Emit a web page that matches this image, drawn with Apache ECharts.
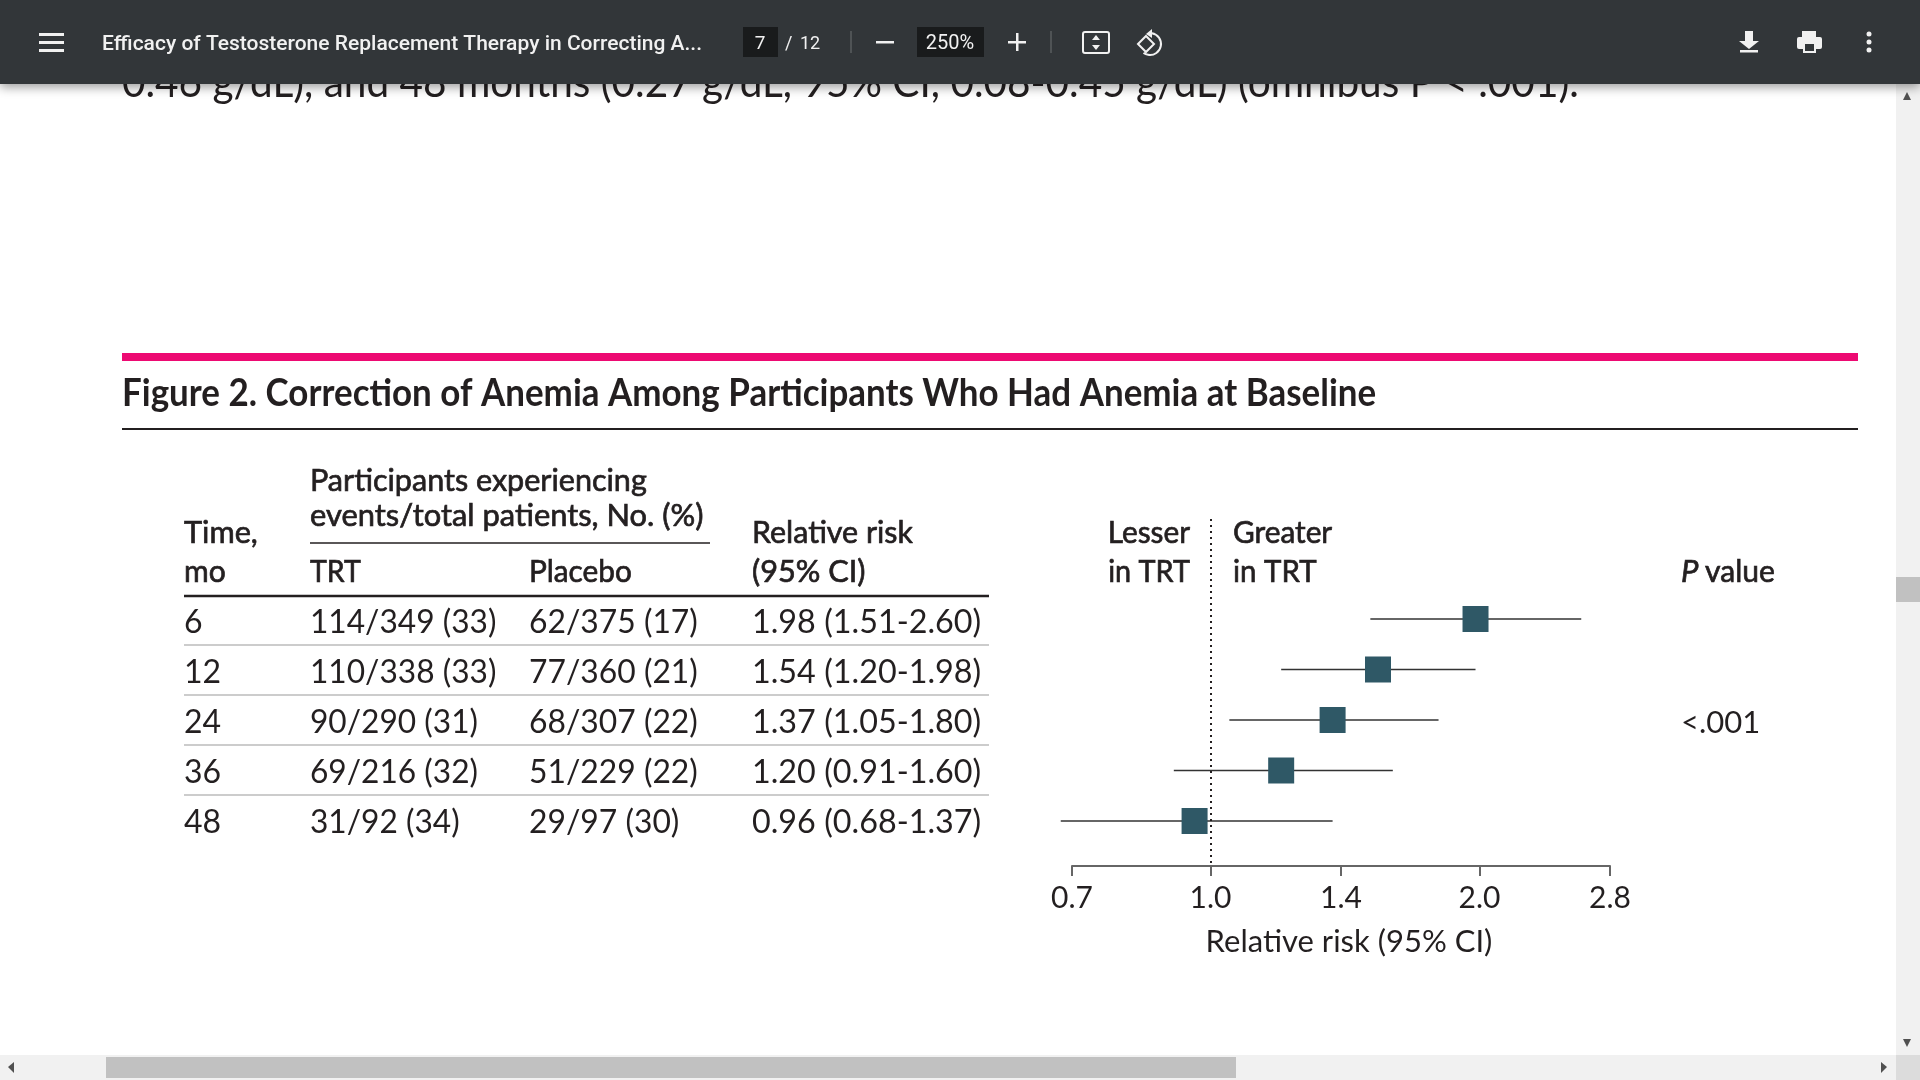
<!DOCTYPE html>
<html>
<head>
<meta charset="utf-8">
<title>Figure 2</title>
<style>
  html, body { margin: 0; padding: 0; background: #fff; overflow: hidden; }
  #chart { width: 1920px; height: 1080px; }
</style>
<script src="https://cdn.jsdelivr.net/npm/echarts@6/dist/echarts.min.js"></script>
</head>
<body>
<div id="chart"></div>
<script>
// chart values
const months = ['6', '12', '24', '36', '48']
const trtCounts = ['114/349 (33)', '110/338 (33)', '90/290 (31)', '69/216 (32)', '31/92 (34)']
const placeboCounts = ['62/375 (17)', '77/360 (21)', '68/307 (22)', '51/229 (22)', '29/97 (30)']
const riskText = ['1.98 (1.51-2.60)', '1.54 (1.20-1.98)', '1.37 (1.05-1.80)', '1.20 (0.91-1.60)', '0.96 (0.68-1.37)']
const rowIndex = [0, 1, 2, 3, 4]
const riskValues = [1.98, 1.54, 1.37, 1.20, 0.96]
const lowerValues = [1.51, 1.20, 1.05, 0.91, 0.68]
const upperValues = [2.60, 1.98, 1.80, 1.60, 1.37]
const tickValues = [0.7, 1.0, 1.4, 2.0, 2.8]
const tickLabels = ['0.7', '1.0', '1.4', '2.0', '2.8']

const FONT = 'Lato'
const INK = '#231f20'
const BAR = '#323639'

const chart = echarts.init(document.getElementById('chart'))

function txt(x, base, text, size, opt) {
  opt = opt || {}
  return {
    type: 'text',
    x: x,
    y: base - size * 0.28,
    scaleX: opt.sx || 1,
    z: opt.z || 1,
    style: {
      text: text,
      x: 0,
      y: 0,
      fontFamily: opt.font || FONT,
      fontSize: size,
      fontWeight: opt.weight || 'normal',
      fontStyle: opt.italic ? 'italic' : 'normal',
      fill: opt.fill || INK,
      stroke: opt.heavy ? INK : null,
      lineWidth: opt.heavy || 0,
      align: opt.align || 'left',
      verticalAlign: 'middle'
    }
  }
}
function box(x, y, w, h, fill, z) {
  return { type: 'rect', z: z || 1, shape: { x: x, y: y, width: w, height: h }, style: { fill: fill } }
}
function seg(x1, y1, x2, y2, color, width, z) {
  return { type: 'line', z: z || 1, shape: { x1: x1, y1: y1, x2: x2, y2: y2 }, style: { stroke: color, lineWidth: width } }
}
function tri(points, fill, z) {
  return { type: 'polygon', z: z || 1, shape: { points: points }, style: { fill: fill } }
}

// pdf viewer chrome
const T = 20
const ui = { font: 'Roboto', fill: '#f1f1f1', z: T }
const viewer = [
  txt(122, 95, '0.46 g/dL), and 48 months (0.27 g/dL, 95% CI, 0.08-0.45 g/dL) (omnibus P < .001).', 43, { sx: 0.943 }),
  { type: 'rect', z: T, shape: { x: 0, y: 0, width: 1920, height: 84 },
    style: { fill: BAR, shadowBlur: 10, shadowColor: 'rgba(0,0,0,0.4)', shadowOffsetY: 3 } },
  box(39, 33, 25, 3, '#f1f1f1', T), box(39, 41, 25, 3, '#f1f1f1', T), box(39, 49, 25, 3, '#f1f1f1', T),
  txt(102, 51, 'Efficacy of Testosterone Replacement Therapy in Correcting A...', 21, Object.assign({ weight: 500 }, ui)),
  box(743, 27, 35, 30, '#191b1c', T),
  txt(760, 50, '7', 19, Object.assign({ align: 'center' }, ui)),
  txt(785, 50, '/', 18, ui),
  txt(800, 50, '12', 18, ui),
  seg(851, 31, 851, 53, '#6d7073', 1, T),
  box(876, 41, 18, 2.5, '#f1f1f1', T),
  box(917, 27, 67, 30, '#191b1c', T),
  txt(950, 50, '250%', 20, Object.assign({ align: 'center' }, ui)),
  box(1008, 41, 18, 2.5, '#f1f1f1', T), box(1016, 33, 2.5, 18, '#f1f1f1', T),
  seg(1051, 31, 1051, 53, '#6d7073', 1, T),
  { type: 'rect', z: T, shape: { x: 1083, y: 32, width: 26, height: 21, r: 2 }, style: { fill: 'none', stroke: '#f1f1f1', lineWidth: 2 } },
  tri([[1096, 35], [1100, 40], [1092, 40]], '#f1f1f1', T),
  tri([[1096, 50], [1100, 45], [1092, 45]], '#f1f1f1', T),
  { type: 'arc', z: T, shape: { cx: 1150, cy: 44, r: 11, startAngle: -1.4, endAngle: 2.2 }, style: { fill: 'none', stroke: '#f1f1f1', lineWidth: 2 } },
  tri([[1138, 43], [1147, 34], [1156, 43], [1147, 52]], BAR, T),
  { type: 'polygon', z: T, shape: { points: [[1138, 44], [1146, 36], [1154, 44], [1146, 52]] }, style: { fill: 'none', stroke: '#f1f1f1', lineWidth: 2 } },
  tri([[1152, 29], [1152, 38], [1146, 34]], '#f1f1f1', T),
  tri([[1739, 41], [1745, 41], [1745, 31], [1753, 31], [1753, 41], [1759, 41], [1749, 49]], '#f1f1f1', T),
  box(1740, 50, 18, 2.5, '#f1f1f1', T),
  box(1802, 31, 14, 6, '#f1f1f1', T),
  { type: 'rect', z: T, shape: { x: 1797, y: 37, width: 25, height: 12, r: 2 }, style: { fill: '#f1f1f1' } },
  box(1803, 44, 13, 9, '#f1f1f1', T), box(1805, 44, 9, 7, BAR, T),
  { type: 'circle', z: T, shape: { cx: 1869, cy: 34, r: 2.5 }, style: { fill: '#f1f1f1' } },
  { type: 'circle', z: T, shape: { cx: 1869, cy: 42, r: 2.5 }, style: { fill: '#f1f1f1' } },
  { type: 'circle', z: T, shape: { cx: 1869, cy: 50, r: 2.5 }, style: { fill: '#f1f1f1' } },
  // scrollbars
  box(1896, 84, 24, 971, '#f1f1f1', 5),
  box(1896, 577, 24, 25, '#c1c1c1', 6),
  tri([[1907, 92], [1911, 100], [1903, 100]], '#505050', 6),
  box(0, 1055, 1896, 25, '#f1f1f1', 5),
  box(1896, 1055, 24, 25, '#dcdcdc', 5),
  box(106, 1057, 1130, 21, '#c1c1c1', 6),
  tri([[1903, 1039], [1911, 1039], [1907, 1047]], '#505050', 6),
  tri([[8, 1067], [14, 1062], [14, 1073]], '#505050', 6),
  tri([[1887, 1067], [1881, 1062], [1881, 1073]], '#505050', 6)
]

// figure heading and table
const HEAD = { heavy: 0.7, sx: 0.97 }
const COL_TIME = 184, COL_TRT = 310, COL_PLACEBO = 529, COL_RISK = 752
const ROW_BASE = [632, 682, 732, 782, 832]
const figure = [
  box(122, 353, 1736, 8, '#ed0a72'),
  txt(122, 404, 'Figure 2. Correction of Anemia Among Participants Who Had Anemia at Baseline', 38, { weight: 'bold', sx: 0.92 }),
  seg(122, 429, 1858, 429, '#231f20', 2),
  txt(COL_TRT, 490, 'Participants experiencing', 31, { heavy: 0.7, sx: 0.985 }),
  txt(COL_TRT, 525, 'events/total patients, No. (%)', 31, { heavy: 0.7, sx: 0.995 }),
  txt(COL_TIME, 542, 'Time,', 31, { heavy: 0.7, sx: 0.99 }),
  txt(COL_TIME, 581, 'mo', 31, HEAD),
  txt(COL_TRT, 581, 'TRT', 31, { heavy: 0.7, sx: 0.92 }),
  txt(COL_PLACEBO, 581, 'Placebo', 31, { heavy: 0.7, sx: 0.96 }),
  txt(COL_RISK, 542, 'Relative risk', 31, { heavy: 0.7, sx: 0.98 }),
  txt(COL_RISK, 581, '(95% CI)', 31, { heavy: 0.7, sx: 0.99 }),
  seg(COL_TRT, 543, 710, 543, '#231f20', 1.5),
  seg(COL_TIME, 596, 989, 596, '#231f20', 2.5),
  txt(1190, 542, 'Lesser', 31, { heavy: 0.7, sx: 0.96, align: 'right' }),
  txt(1190, 581, 'in TRT', 31, { heavy: 0.7, sx: 0.93, align: 'right' }),
  txt(1233, 542, 'Greater', 31, { heavy: 0.7, sx: 0.96 }),
  txt(1233, 581, 'in TRT', 31, { heavy: 0.7, sx: 0.95 }),
  txt(1681, 581, 'P', 31, { heavy: 0.7, italic: true }),
  txt(1705, 581, 'value', 31, HEAD),
  txt(1681, 732, '<.001', 31)
]
months.forEach((m, i) => {
  figure.push(txt(COL_TIME, ROW_BASE[i], m, 32))
  figure.push(txt(COL_TRT, ROW_BASE[i], trtCounts[i], 32, { sx: 0.99 }))
  figure.push(txt(COL_PLACEBO, ROW_BASE[i], placeboCounts[i], 32, { sx: 0.995 }))
  figure.push(txt(COL_RISK, ROW_BASE[i], riskText[i], 32, { sx: 1.01 }))
  if (i < months.length - 1) {
    figure.push(seg(COL_TIME, ROW_BASE[i] + 13, 989, ROW_BASE[i] + 13, '#bbbbbb', 1.5))
  }
})

const option = {
  animation: false,
  backgroundColor: '#fff',
  grid: { left: 1072, right: 310, top: 519, bottom: 214 },
  xAxis: {
    type: 'log',
    logBase: 2,
    min: 0.7,
    max: 2.8,
    splitLine: { show: false },
    axisLine: { onZero: false, lineStyle: { color: '#666', width: 2 } },
    axisTick: { inside: false, length: 10, customValues: tickValues, lineStyle: { color: '#666', width: 2 } },
    minorTick: { show: false },
    axisLabel: {
      margin: 17,
      fontFamily: FONT,
      fontSize: 30,
      color: INK,
      customValues: tickValues,
      formatter: v => tickLabels[tickValues.findIndex(t => Math.abs(t - v) < 0.01)]
    },
    name: 'Relative risk (95% CI)',
    nameLocation: 'middle',
    nameGap: 60,
    nameTextStyle: { fontFamily: FONT, fontSize: 31, color: INK, padding: [0, 0, 0, 16] }
  },
  yAxis: {
    type: 'value',
    inverse: true,
    show: false,
    min: -1.98,
    max: 4.891
  },
  series: [
    {
      name: 'CI',
      type: 'custom',
      silent: true,
      data: rowIndex.map(i => [lowerValues[i], upperValues[i], i]),
      encode: { x: [0, 1], y: 2 },
      renderItem: (params, api) => {
        const a = api.coord([api.value(0), api.value(2)])
        const b = api.coord([api.value(1), api.value(2)])
        return {
          type: 'line',
          shape: { x1: a[0], y1: a[1], x2: b[0], y2: b[1] },
          style: { stroke: '#333', lineWidth: 1.5 }
        }
      },
      z: 2
    },
    {
      name: 'Relative risk',
      type: 'scatter',
      silent: true,
      symbol: 'rect',
      symbolSize: 26,
      itemStyle: { color: '#2f5866', opacity: 1 },
      data: rowIndex.map(i => [riskValues[i], i]),
      z: 3,
      markLine: {
        silent: true,
        symbol: 'none',
        label: { show: false },
        lineStyle: { color: '#231f20', type: [2, 4], width: 2 },
        data: [{ xAxis: 1 }],
        z: 4
      }
    }
  ],
  graphic: { elements: viewer.concat(figure) }
}
option && chart.setOption(option)
</script>
</body>
</html>
